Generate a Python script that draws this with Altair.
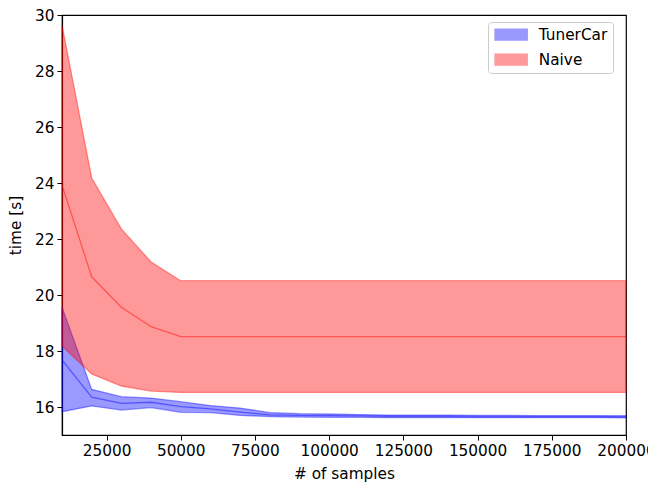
import altair as alt
import pandas as pd

samples = [10000, 20000, 30000, 40000, 50000, 60000, 70000, 80000, 90000, 100000,
           110000, 120000, 130000, 140000, 150000, 160000, 170000, 180000, 190000, 200000]

tuner_mean = [17.68, 16.35, 16.13, 16.17, 16.01, 15.93, 15.82, 15.72, 15.70, 15.69,
              15.68, 15.67, 15.67, 15.67, 15.66, 15.66, 15.66, 15.66, 15.66, 15.65]
tuner_upper = [19.56, 16.63, 16.37, 16.32, 16.19, 16.05, 15.96, 15.80, 15.76, 15.75,
               15.73, 15.71, 15.71, 15.71, 15.70, 15.70, 15.69, 15.69, 15.69, 15.69]
tuner_lower = [15.83, 16.04, 15.89, 15.98, 15.81, 15.80, 15.70, 15.66, 15.64, 15.63,
               15.63, 15.62, 15.62, 15.62, 15.62, 15.62, 15.62, 15.62, 15.62, 15.61]

naive_mean = [23.93, 20.65, 19.56, 18.87, 18.51, 18.51, 18.51, 18.51, 18.51, 18.51,
              18.51, 18.51, 18.51, 18.51, 18.51, 18.51, 18.51, 18.51, 18.51, 18.51]
naive_upper = [29.64, 24.18, 22.36, 21.18, 20.51, 20.51, 20.51, 20.51, 20.51, 20.51,
               20.51, 20.51, 20.51, 20.51, 20.51, 20.51, 20.51, 20.51, 20.51, 20.51]
naive_lower = [18.18, 17.18, 16.75, 16.57, 16.52, 16.52, 16.52, 16.52, 16.52, 16.52,
               16.52, 16.52, 16.52, 16.52, 16.52, 16.52, 16.52, 16.52, 16.52, 16.52]

series_names = ["TunerCar", "Naive"]
series_colors = ["blue", "red"]

rows = []
for name, lo, mu, hi in [("TunerCar", tuner_lower, tuner_mean, tuner_upper),
                         ("Naive", naive_lower, naive_mean, naive_upper)]:
    for s, a, m, b in zip(samples, lo, mu, hi):
        rows.append({"samples": s, "series": name, "lo": a, "mean": m, "hi": b})
df = pd.DataFrame(rows)

FONT = "DejaVu Sans"
FS = 15.3

xenc = alt.X("samples:Q", title="# of samples",
             scale=alt.Scale(domain=[10000, 200000], nice=False, zero=False),
             axis=alt.Axis(values=[25000, 50000, 75000, 100000, 125000, 150000, 175000, 200000],
                           format="d", titlePadding=8))
yenc = alt.Y("lo:Q", title="time [s]",
             scale=alt.Scale(domain=[15.0, 30.0], nice=False, zero=False),
             axis=alt.Axis(values=[16, 18, 20, 22, 24, 26, 28, 30], titlePadding=11))

legend = alt.Legend(title=None, orient="none", legendX=426, legendY=7,
                    symbolType="M-3,-1L3,-1L3,1L-3,1Z",
                    symbolSize=114, symbolOpacity=0.4, symbolStrokeWidth=1.5,
                    labelFont=FONT, labelFontSize=FS, labelColor="black",
                    padding=5, rowPadding=8, labelOffset=20, symbolOffset=10.5,
                    strokeColor="#cccccc", cornerRadius=3, fillColor="white")

cscale = alt.Scale(domain=series_names, range=series_colors)

layers = []
for name, col in zip(series_names, series_colors):
    area = alt.Chart(df).transform_filter(alt.datum.series == name).mark_area(
        fillOpacity=0.4, strokeOpacity=0.4, strokeWidth=1.3
    ).encode(
        x=xenc, y=yenc, y2="hi:Q",
        fill=alt.Fill("series:N", scale=cscale, legend=legend),
        stroke=alt.Stroke("series:N", scale=cscale, legend=legend),
    )
    line = alt.Chart(df).transform_filter(alt.datum.series == name).mark_line(
        color=col, strokeOpacity=0.45, strokeWidth=1.3
    ).encode(x=xenc, y=alt.Y("mean:Q"))
    layers += [area, line]

chart = alt.layer(*layers).properties(
    width=564, height=420,
    autosize=alt.AutoSizeParams(type="none"),
    padding={"left": 54, "top": 7, "right": 22, "bottom": 47},
).configure_view(stroke="black", strokeWidth=1.2).configure_axis(
    grid=False, labelFont=FONT, labelFontSize=FS, labelColor="black",
    titleFont=FONT, titleFontSize=FS, titleFontWeight="normal", titleColor="black",
    domainColor="black", tickColor="black", tickSize=5, labelPadding=3,
    domainWidth=1.2, tickWidth=1.0, labelFlush=False
)

chart.save("out.html", embed_options={"renderer": "svg", "actions": False})
